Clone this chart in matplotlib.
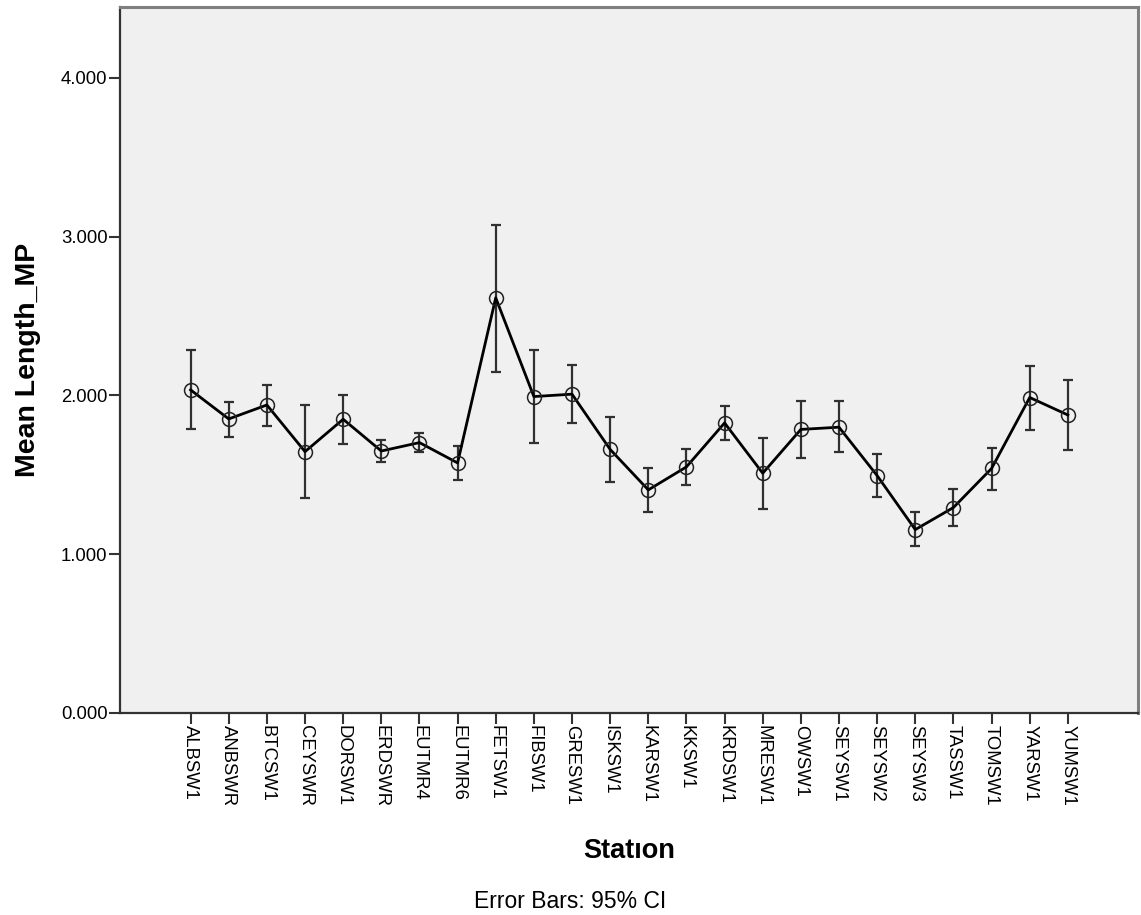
import matplotlib.pyplot as plt

stations = ["ALBSW1", "ANBSWR", "BTCSW1", "CEYSWR", "DORSW1", "ERDSWR", "EUTMR4", "EUTMR6",
            "FETSW1", "FIBSW1", "GRESW1", "ISKSW1", "KARSW1", "KKSW1", "KRDSW1", "MRESW1",
            "OWSW1", "SEYSW1", "SEYSW2", "SEYSW3", "TASSW1", "TOMSW1", "YARSW1", "YUMSW1"]
means = [2.035, 1.852, 1.940, 1.646, 1.850, 1.650, 1.703, 1.575,
         2.615, 1.993, 2.008, 1.660, 1.405, 1.550, 1.827, 1.510,
         1.786, 1.800, 1.495, 1.155, 1.294, 1.540, 1.987, 1.877]
ci_low = [1.787, 1.741, 1.810, 1.357, 1.692, 1.581, 1.646, 1.468,
          2.150, 1.698, 1.826, 1.452, 1.265, 1.436, 1.721, 1.287,
          1.606, 1.641, 1.358, 1.051, 1.180, 1.407, 1.783, 1.657]
ci_high = [2.287, 1.961, 2.066, 1.940, 2.001, 1.720, 1.762, 1.682,
           3.074, 2.285, 2.190, 1.863, 1.546, 1.662, 1.935, 1.730,
           1.965, 1.965, 1.632, 1.266, 1.412, 1.672, 2.184, 2.098]

plt.rcParams['font.family'] = ['Liberation Sans', 'DejaVu Sans']

fig = plt.figure(figsize=(11.41, 9.15), dpi=100)
ax = fig.add_axes([0.1052, 0.2208, 0.8922, 0.7716])
ax.set_facecolor("#f0f0f0")

x = list(range(len(stations)))
yerr = [[m - lo for m, lo in zip(means, ci_low)],
        [hi - m for m, hi in zip(means, ci_high)]]

ax.errorbar(x, means, yerr=yerr, fmt="none", ecolor="#303030", elinewidth=1.6,
            capsize=3.4, capthick=1.6, zorder=2)
ax.plot(x, means, color="black", linewidth=2.0, zorder=3)
ax.plot(x, means, "o", markersize=10, markerfacecolor="none",
        markeredgecolor="#222222", markeredgewidth=1.1, zorder=4)

ax.set_xlim(-1.85, 24.84)
ax.set_ylim(0, 4.447)
ax.set_yticks([0, 1, 2, 3, 4])
ax.set_yticklabels(["0.000", "1.000", "2.000", "3.000", "4.000"])
ax.set_xticks(x)
ax.set_xticklabels(stations, rotation=270, va="top", ha="center")
ax.tick_params(axis="both", direction="out", length=8, width=1.5, color="#333333",
               labelsize=13.3, pad=1)

for s in ["left", "bottom"]:
    ax.spines[s].set_color("#333333")
    ax.spines[s].set_linewidth(1.6)
for s in ["top", "right"]:
    ax.spines[s].set_color("#7f7f7f")
    ax.spines[s].set_linewidth(2.2)

ax.set_ylabel("Mean Length_MP", fontsize=20.5, fontweight="bold", labelpad=14)
ax.set_xlabel("Statıon", fontsize=19.5, fontweight="bold", labelpad=22)
fig.text(0.5, 0.0153, "Error Bars: 95% CI", fontsize=16.5, ha="center", va="center")

fig.savefig("out.png", dpi=100)
